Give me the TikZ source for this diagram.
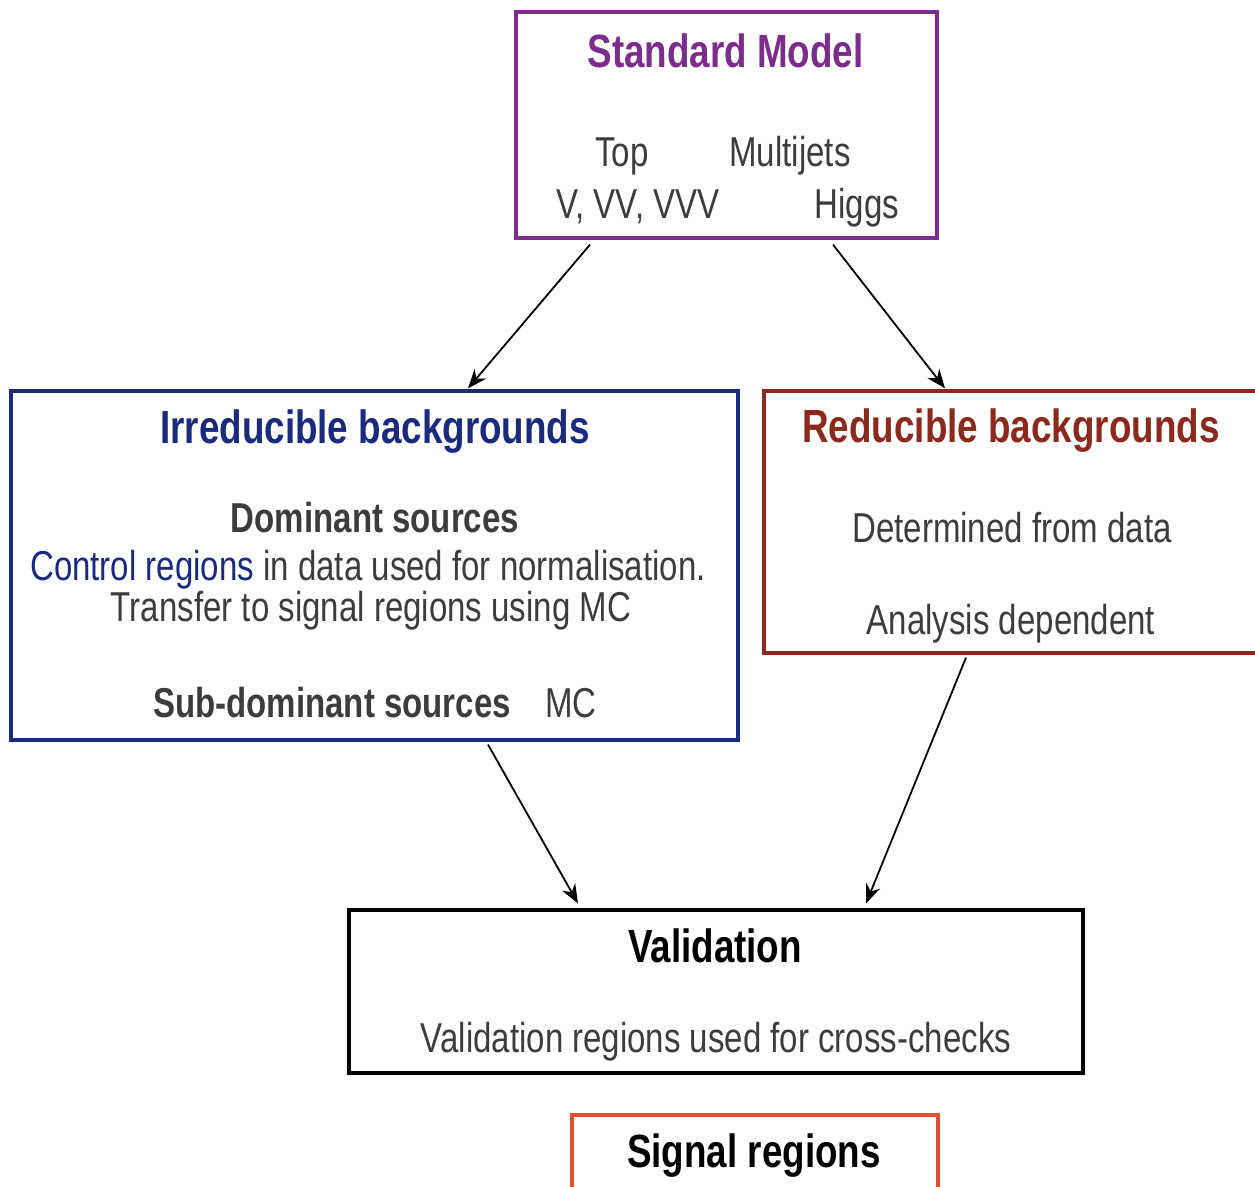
\documentclass[tikz,border=0pt]{standalone}
\usepackage{fontspec}
\setmainfont{Liberation Sans}
\newfontfamily\tallsans[FakeStretch=0.79]{Liberation Sans}
\usetikzlibrary{arrows.meta}
\definecolor{smpurple}{HTML}{7B2C8C}
\definecolor{irrblue}{HTML}{1A2A7E}
\definecolor{redbrown}{HTML}{8B2A1C}
\definecolor{sigred}{HTML}{E0502E}
\definecolor{bodygray}{HTML}{3C3C3C}
\tikzset{
  box/.style={draw, rectangle, line width=3.2pt, inner sep=0pt},
  head/.style={font=\tallsans\fontsize{46.6}{50}\selectfont\bfseries, anchor=base, inner sep=0pt},
  body/.style={font=\tallsans\fontsize{41.8}{45}\selectfont, text=bodygray, anchor=base, inner sep=0pt},
  bodyb/.style={font=\tallsans\fontsize{41.8}{45}\selectfont\bfseries, text=bodygray, anchor=base, inner sep=0pt},
  arr/.style={-{Stealth[length=19pt,width=15pt]}, line width=1.8pt, black}
}
\begin{document}
\begin{tikzpicture}[x=1pt,y=-1pt]
\useasboundingbox (0,0) rectangle (1255,1186);
\clip (0,0) rectangle (1255,1186);
\fill[white] (0,0) rectangle (1255,1186);

% boxes
\node[box, draw=smpurple, minimum width=421pt, minimum height=226pt] (sm) at (726.5,125) {};
\node[box, draw=irrblue, minimum width=727pt, minimum height=349pt] (irr) at (374.5,565.5) {};
\node[box, draw=redbrown, minimum width=501pt, minimum height=262pt] (red) at (1014.5,522) {};
\node[box, draw=black, minimum width=734pt, minimum height=163pt] (val) at (716,991.5) {};
\node[box, draw=sigred, minimum width=366pt, minimum height=85pt] (sig) at (755,1157.5) {};

% Standard Model texts
\node[head, text=smpurple] (smt) at (725.5,67) {Standard Model};
\node[body] (top) at (622,166) {Top};
\node[body] (mj) at (790,166) {Multijets};
\node[body] (vvv) at (638,218) {V, VV, VVV};
\node[body] (hig) at (857,218) {Higgs};

% Irreducible texts
\node[head, text=irrblue] (irrt) at (375,443) {Irreducible backgrounds};
\node[bodyb] (dom) at (375,532) {Dominant sources};
\node[body] (cr) at (368,580) {{\color{irrblue}Control regions} in data used for normalisation.};
\node[body] (tr) at (371,621) {Transfer to signal regions using MC};
\node[bodyb] (sub) at (332,717) {Sub-dominant sources};
\node[body] (mc) at (571,717) {MC};

% Reducible texts
\node[head, text=redbrown] (redt) at (1011,442) {Reducible backgrounds};
\node[body] (det) at (1012,542) {Determined from data};
\node[body] (ana) at (1011,634) {Analysis dependent};

% Validation texts
\node[head, text=black] (valt) at (715,962) {Validation};
\node[body] (valr) at (716,1052) {Validation regions used for cross-checks};

% Signal text
\node[head, text=black] (sigt) at (754,1167) {Signal regions};

% arrows
\draw[arr] ([xshift=-136.5pt,yshift=-5pt]sm.south) -- ([xshift=93.5pt,yshift=1pt]irr.north);
\draw[arr] ([xshift=106.5pt,yshift=-5pt]sm.south) -- ([xshift=-69.5pt,yshift=1pt]red.north);
\draw[arr] ([xshift=113.5pt,yshift=-3pt]irr.south) -- ([xshift=-138pt,yshift=5pt]val.north);
\draw[arr] ([xshift=-48.5pt,yshift=-3pt]red.south) -- ([xshift=150pt,yshift=5pt]val.north);
\end{tikzpicture}
\end{document}
